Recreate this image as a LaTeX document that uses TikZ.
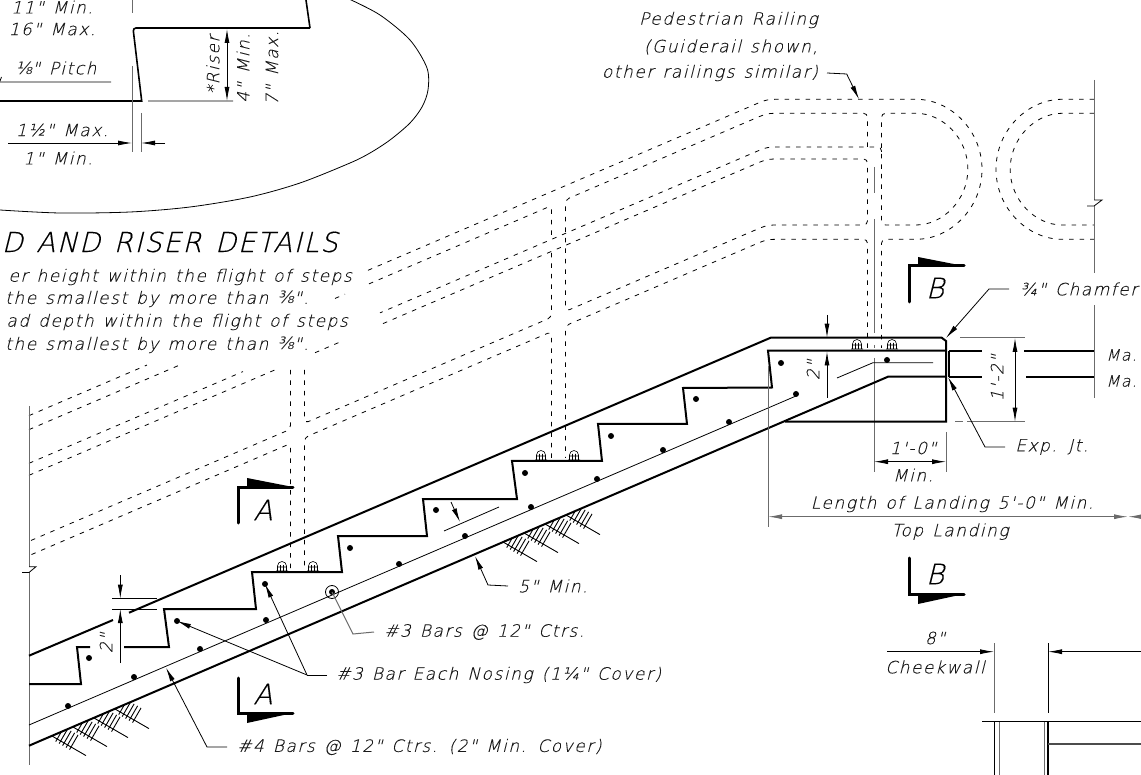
\documentclass[tikz,border=0pt]{standalone}
\usepackage{fontspec}
\usetikzlibrary{arrows.meta}
\newfontfamily\dimf[FakeSlant=0.25,LetterSpace=9,WordSpace=1.3,FakeBold=0.12]{DejaVu Sans ExtraLight}
\newfontfamily\bigf[FakeSlant=0.25,LetterSpace=6,WordSpace=1.3,FakeBold=0.35]{DejaVu Sans ExtraLight}
\newfontfamily\fracf[FakeSlant=0.25]{DejaVu Sans}
\definecolor{extgray}{gray}{0.42}
\newcommand\Rr[2]{({#1},{#2+.4286*(767-#1)})}
\newcommand\BendL[1]{(785,#1) .. controls (767,#1) .. \Rr{750}{#1}}
\newcommand\BendR[1]{\Rr{750}{#1} .. controls (767,#1) .. (785,#1)}
\tikzset{
  thick line/.style={line width=2pt,black,line join=miter},
  thin line/.style={line width=.8pt,black},
  ext line/.style={line width=1pt,extgray},
  rail/.style={line width=.8pt,black,dash pattern=on 4.5pt off 6pt,rounded corners=4pt},
  lab/.style={inner sep=0pt,font=\dimf\fontsize{17}{17}\selectfont,text=black!90},
  title/.style={inner sep=0pt,font=\bigf\fontsize{27.5}{27.5}\selectfont},
  sec/.style={inner sep=0pt,font=\bigf\fontsize{28}{28}\selectfont},
  dimtip/.style={-{Latex[length=14pt,width=5pt]}},
  bothtip/.style={{Latex[length=14pt,width=5pt]}-{Latex[length=14pt,width=5pt]}},
  barDot/.style={circle,fill=black,inner sep=0pt,minimum size=6pt},
  bolt/.pic={\draw[line width=.6pt] (-6,4)--(6,4) (-4.5,4)--(-4.5,-1) arc (180:0:4.5pt)--(4.5,4) (-1.5,4)--(-1.5,-2) (1.5,4)--(1.5,-2) (-4.5,0)--(4.5,0);},
  soil/.pic={\foreach \k in {0,1,2,3}{
      \begin{scope}[shift={({\k*21},{-\k*9})}]
      \draw[line width=.9pt,black] (0,0) -- (34,19.6);
      \foreach \t in {6,10,14,18,22}{\draw[line width=.9pt,black] ({\t*.866-1.5},{\t*.5+2.6}) -- ++(8.5,-14.7);}
      \end{scope}
  }}
}
\begin{document}
\begin{tikzpicture}[x=1pt,y=-1pt]
\useasboundingbox (0,0) rectangle (1141,775);
\begin{scope}
\clip (0,0) rectangle (1141,775);
% detail ellipse
\draw[line width=.8pt,black] plot[smooth] coordinates {(349,-1)(380,15)(410,40)(427,68)(428,90)(422,107)(410,123)(390,140)(370,153)(350,163)(300,183)(250,197)(190,207)(130,212)(60,213)(0,210)};
% tread and riser detail
\draw[thick line,line width=1.6pt] (306,0) -- (310,28);
\draw[thick line,line width=1.6pt] (310,28) [rounded corners=3pt] -- (133,28) [sharp corners] -- (141.7,101) -- (0,101);
\draw[ext line] (132,0)--(132,13) (132,66)--(132,152) (141,113)--(141,152);
\draw[thin line] (148,101)--(233,101) (0,82)--(111,82) (0,81)--(1.5,77);
\draw[thin line,dimtip] (8,143)--(132,143);
\draw[thin line,dimtip] (165,143)--(141,143);
\draw[thin line,bothtip] (227,29)--(227,101);
\node[lab] (t11) at (52,7) {11" Min.};
\node[lab] (t16) at (52,29) {16" Max.};
\node[lab] (tpitch) at (56,68) {{\fracf ⅛}" Pitch};
\node[lab] (tmax) at (62,130) {1½" Max.};
\node[lab] (tmin) at (58,158) {1" Min.};
\node[lab,rotate=90] (triser) at (213,65) {*Riser};
\node[lab,rotate=90] (t4) at (243,68) {4" Min.};
\node[lab,rotate=90] (t7) at (272,68) {7" Max.};
\node[title,anchor=east] (ttitle) at (338,242) {D AND RISER DETAILS};
\node[lab,anchor=east] (n1) at (352,277) {er height within the flight of steps};
\node[lab,anchor=west] (n2) at (5,299) {the smallest by more than {\fracf ⅜}".};
\node[lab,anchor=east] (n3) at (348,322) {ad depth within the flight of steps};
\node[lab,anchor=west] (n4) at (5,345) {the smallest by more than {\fracf ⅜}".};
% rails
\draw[rail] \Rr{368}{99.3} -- \BendR{99.3} -- (912,99.3) arc (90:-90:70pt) -- (881.5,239.3) -- (881.5,348);
\draw[rail] (881.5,169) -- (881.5,113.3) -- (912,113.3) arc (90:-90:55.85pt) -- (881.5,225) -- (881.5,169);
\draw[rail] (867.5,147) -- (867.5,113.3) -- \BendL{113.3} -- \Rr{565.5}{113.3} -- \Rr{565.5}{225} -- \BendR{225} -- (867.5,225) -- (867.5,159) -- \BendL{159} -- \Rr{380}{159};
\draw[rail] (881.5,152) -- (881.5,147) -- \BendL{147} -- \Rr{380}{147};
\draw[rail] \Rr{369}{113.3} -- \Rr{551.5}{113.3} -- (551.5,237);
\draw[rail] (551.5,253) -- \Rr{551.5}{225} -- \Rr{304.5}{225} -- (304.5,370);
\draw[rail] (290.5,370) -- \Rr{290.5}{225} -- \Rr{29}{225};
\draw[rail] (867.5,348) -- (867.5,239.3) -- \BendL{239.3} -- \Rr{565.5}{239.3} -- (565.5,458);
\draw[rail] (551.5,458) -- \Rr{551.5}{239.3} -- \Rr{304.5}{239.3} -- (304.5,568);
\draw[rail] (290.5,568) -- \Rr{290.5}{239.3} -- \Rr{29}{239.3};
\draw[rail] \Rr{29}{99.3} -- \Rr{147}{99.3};
\draw[rail] \Rr{29}{113.3} -- \Rr{181}{113.3};
\draw[rail] \Rr{335}{113.3} -- \Rr{345}{113.3};
\draw[rail] \Rr{29}{147} -- \Rr{243}{147};
\draw[rail] \Rr{29}{159} -- \Rr{277}{159};
\draw[rail] \Rr{315}{159} -- \Rr{340}{159};
\draw[rail] (1094,99.3) -- (1066,99.3) arc (90:270:70pt) -- (1094,239.3);
\draw[rail] (1094,113.3) -- (1066,113.3) arc (90:270:55.85pt) -- (1094,225);
% bolts
\foreach \bx/\by in {282/567,313/567,541/456,574/456,857/345,892/345}{\pic at (\bx,\by) {bolt};}
% center and wall lines
\draw[ext line] (874,167)--(874,193) (874,219)--(874,333) (874,345)--(874,348) (874,358)--(874,472);
\draw[ext line] (29,406)--(29,567) (29,572)--(29,765);
\draw[thin line] (22,572.5)--(29,572.5)--(36,566.7)--(29,566.7);
\draw[ext line] (1094,80)--(1094,200) (1094,206)--(1094,273) (1094,305)--(1094,398);
\draw[thin line] (1087,206)--(1094,206)--(1102,200)--(1094,200);
% soil hatching
\begin{scope}
\clip (29,745.7)--(888,376.7)--(888,775)--(29,775)--cycle;
\pic at (52,736) {soil};
\pic at (503,542) {soil};
\end{scope}
% stair concrete
\draw[thick line] (29,655.7)--(113,620);
\draw[thick line] (129,612.7)--(770.7,337.7)--(941.7,337.7)--(946,341)--(946,421.7)--(785,421.7);
\draw[thick line] (29,745.7)--(888,376.7)--(946,376.7);
\draw[thick line] (946,350.7)--(768,350.7)--(772,387.5)--(683,388)--(687,424)--(598,424)--(602,461)--(512,461)--(517,499)--(423,499)--(427,536)--(338,536)--(342,572)--(252,572)--(256,609)--(164,609)--(169,647)--(124,647);
\draw[thick line] (90,647)--(77,647)--(81,684)--(29,684);
\draw[thick line] (949,351)--(982,351) (1024,351)--(1094,351) (949,377)--(982,377) (1026,377)--(1094,377) (949,351)--(949,377);
% rebar
\draw[thin line] (29,725)--(796,396);
\draw[thin line] (837,378)--(873,362.7)--(933,362.7);
\foreach \dx/\dy in {89/658,177/621,265/584,350/548,436/510,525/473,611/436,696/399,781/363,887/360,68/706,134/677,200/649,266/620,332/592,399/564,465/536,531/507,597/479,663/450,729/422,796/394}{\node[barDot] at (\dx,\dy) {};}
\draw[thin line] (332,592) circle (6.5pt);
% section marks
\fill (247,478)--(293,487)--(247,487)--cycle;
\draw[line width=3pt,line cap=round] (238,523)--(238,487)--(293,487);
\node[sec] (secA1) at (263,510) {A};
\fill (247,723)--(293,713)--(247,713)--cycle;
\draw[line width=3pt,line cap=round] (238,678)--(238,713)--(293,713);
\node[sec] (secA2) at (263,694) {A};
\fill (918,257)--(964,266)--(918,266)--cycle;
\draw[line width=3pt,line cap=round] (909,302)--(909,266)--(964,266);
\node[sec] (secB1) at (935,288) {B};
\fill (918,604)--(964,594)--(918,594)--cycle;
\draw[line width=3pt,line cap=round] (909,558)--(909,594)--(964,594);
\node[sec] (secB2) at (935,574) {B};
% dims lower left
\draw[thin line] (112,598.7)--(157,598.7) (112,609)--(157,609);
\draw[thin line,dimtip] (120.3,575)--(120.3,598.7);
\draw[thin line,dimtip] (120.3,663)--(120.3,609);
\node[lab,rotate=90] (t2a) at (106,643) {2"};
% slab thickness
\draw[thin line,dimtip] (451,502)--(460,522);
\draw[thin line] (444,531)--(499,507);
% landing dims
\draw[ext line] (768,366)--(768,527) (946,432)--(946,472);
\draw[ext line,{Latex[length=14pt,width=5pt]}-{Latex[length=14pt,width=5pt]}] (768,516.7)--(1128,516.7);
\draw[ext line,dimtip] (1141,516.7)--(1128,516.7);
\draw[thin line,bothtip] (874,461.7)--(946,461.7);
\node[lab] (t10) at (913,448) {1'-0"};
\node[lab] (tm) at (913,475) {Min.};
\node[lab] (tlen) at (952,504) {Length of Landing 5'-0" Min.};
\node[lab] (ttop) at (950,531.6) {Top Landing};
\draw[thin line,dimtip] (827,315)--(827,337.7);
\draw[thin line,dimtip] (827,398)--(827,351.5);
\node[lab,rotate=90] (t2b) at (813,370) {2"};
\draw[ext line] (960,338)--(1025,338) (955,421.7)--(963,421.7) (967,421.7)--(1025,421.7);
\draw[thin line,bothtip] (1015,338)--(1015,421.7);
\node[lab,rotate=90] (t12) at (997,378) {1'-2"};
\node[lab,anchor=east,font=\dimf\fontsize{15.5}{15.5}\selectfont] (tma1) at (1137,355) {Ma.};
\node[lab,anchor=east,font=\dimf\fontsize{15.5}{15.5}\selectfont] (tma2) at (1137,381) {Ma.};
% labels with leaders
\node[lab,anchor=east] (p1) at (818,20) {Pedestrian Railing};
\node[lab,anchor=east] (p2) at (818,47) {(Guiderail shown,};
\node[lab,anchor=east] (p3) at (818,73) {other railings similar)};
\coordinate (railTip) at (859,99.3);
\draw[thin line,dimtip] ([xshift=9pt]p3.east)--(846.7,74)--(railTip);
\node[lab,anchor=west] (tbars3) at (384,632) {\#3 Bars @ 12" Ctrs.};
\draw[ext line] (332,592)--(353,634)--([xshift=-10pt]tbars3.west);
\node[lab,anchor=west] (tnose) at (336,675) {\#3 Bar Each Nosing (1¼" Cover)};
\coordinate (noseK) at (307,675);
\draw[thin line] ([xshift=-9pt]tnose.west)--(noseK);
\draw[thin line,dimtip] (noseK)--(177,621);
\draw[thin line,dimtip] (noseK)--(265,584);
\node[lab,anchor=west] (tbars4) at (237,747) {\#4 Bars @ 12" Ctrs. (2" Min. Cover)};
\draw[thin line,dimtip] ([xshift=-10pt]tbars4.west)--(207,747)--(166,667.7);
\node[lab,anchor=west] (tfive) at (518,586) {5" Min.};
\draw[thin line,dimtip] ([xshift=-10pt]tfive.west)--(488,585)--(475,556);
\node[lab,anchor=west] (tchamf) at (1020,289) {¾" Chamfer};
\draw[thin line,dimtip] ([xshift=-11pt]tchamf.west)--(989,289)--(946,338);
\node[lab,anchor=west] (texp) at (1015,447) {Exp. Jt.};
\draw[thin line,dimtip] ([xshift=-10pt]texp.west)--(985,447)--(948,377);
% cheekwall
\node[lab] (t8) at (935,638) {8"};
\node[lab] (tcheek) at (935,667) {Cheekwall};
\draw[thin line,dimtip] (887,651.7)--(994,651.7);
\draw[thin line,dimtip] (1141,651.7)--(1048,651.7);
\draw[ext line] (994,643)--(994,712.7);
\draw[thin line] (1048,643)--(1048,712.7) (982,721.7)--(1141,721.7);
\draw[line width=1.6pt] (994.3,722)--(994.3,775) (1047.7,722)--(1047.7,775);
\draw[ext line] (999,722)--(999,775) (1044,722)--(1044,775);
\draw[line width=1.6pt,black!70] (1048,744)--(1141,744);
\end{scope}
\end{tikzpicture}
\end{document}
